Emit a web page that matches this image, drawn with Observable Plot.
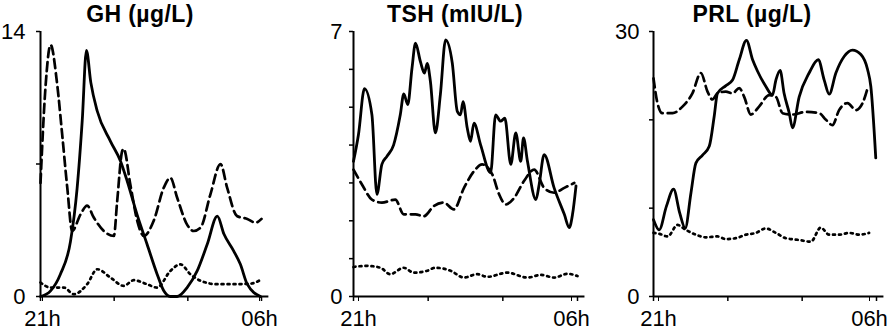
<!DOCTYPE html>
<html><head><meta charset="utf-8">
<script src="https://cdn.jsdelivr.net/npm/d3@7"></script>
<script src="https://cdn.jsdelivr.net/npm/@observablehq/plot@0.6"></script>
<style>
body{margin:0;background:#fff;}
#chart{position:relative;width:892px;height:335px;font-family:"Liberation Sans",Arial,sans-serif;color:#000;}
.panel{position:absolute;top:0;}
.title{position:absolute;top:1px;font-size:23px;font-weight:bold;letter-spacing:0.4px;white-space:nowrap;transform:translateX(-50%);}
</style></head><body><div id="chart"></div>
<script>
// time = hours after 21h (0 = 21h, 9 = 06h)
const xTickHours = [0, 3, 6, 9];
const xStartLabel = "21h";
const xEndLabel = "06h";
const titles = ["GH (\u00b5g/L)", "TSH (mIU/L)", "PRL (\u00b5g/L)"];

// GH (µg/L)
const ghSolid = [[0,0],[0.41,0.3],[0.81,1.18],[1.22,2.9],[1.49,5.7],[1.7,9.3],[1.87,13.0],[2.05,11.3],[2.31,9.8],[2.85,8.2],[3.26,7.15],[3.53,6.1],[3.94,4.3],[4.34,2.76],[4.75,1.18],[5.02,0.3],[5.29,0],[5.57,0],[5.97,0.47],[6.38,1.35],[6.79,2.76],[7.2,4.25],[7.47,3.3],[7.87,2.4],[8.14,1.7],[8.42,0.65],[8.96,0]];
const ghDashed = [[0,6.0],[0.2,11.0],[0.41,13.3],[0.68,11.2],[0.88,8.6],[1.09,5.75],[1.29,3.46],[1.63,4.34],[1.9,4.8],[2.17,4.17],[2.58,3.46],[2.99,3.2],[3.12,5.0],[3.33,7.7],[3.39,7.8],[3.66,5.9],[3.94,4.0],[4.21,3.2],[4.61,4.0],[5.02,5.75],[5.29,6.27],[5.57,5.2],[5.97,3.8],[6.24,3.46],[6.52,3.64],[6.92,5.4],[7.33,7.0],[7.6,5.75],[8.0,4.25],[8.42,4.1],[8.76,3.9],[9,4.1]];
const ghDotted = [[0,0.74],[0.41,0.47],[0.95,0.47],[1.36,0.12],[1.9,0.65],[2.31,1.44],[2.85,1.0],[3.39,0.56],[3.8,0.86],[4.34,0.65],[4.75,0.47],[5.29,1.35],[5.7,1.7],[6.1,1.18],[6.52,0.83],[7.2,0.65],[7.87,0.65],[8.55,0.68],[9,0.9]];

// TSH (mIU/L)
const tshSolid = [[0,3.57],[0.2,4.28],[0.44,5.49],[0.74,4.8],[0.94,2.7],[1.14,3.49],[1.34,3.7],[1.61,4.0],[1.88,4.8],[2.02,5.35],[2.18,5.07],[2.35,6.03],[2.49,6.69],[2.69,6.2],[2.85,5.9],[2.96,6.16],[3.09,5.68],[3.29,4.32],[3.49,5.33],[3.7,6.78],[3.97,6.16],[4.17,4.89],[4.3,4.8],[4.4,5.15],[4.57,4.45],[4.7,4.1],[4.84,4.58],[5.11,4.0],[5.51,3.27],[5.71,4.8],[5.91,4.63],[6.08,4.71],[6.32,3.49],[6.52,4.32],[6.72,3.57],[6.83,4.19],[6.99,3.57],[7.33,2.56],[7.46,2.96],[7.66,3.75],[8.06,2.87],[8.47,2.17],[8.67,1.82],[8.8,2.17],[8.94,2.92]];
const tshDashed = [[0,3.35],[0.34,2.96],[0.74,2.56],[1.14,2.48],[1.68,2.56],[2.02,2.17],[2.49,2.17],[2.82,2.12],[3.23,2.39],[3.63,2.48],[4.03,2.3],[4.44,2.87],[4.84,3.31],[5.17,3.49],[5.58,3.22],[5.85,2.7],[6.12,2.43],[6.45,2.6],[6.85,3.05],[7.26,3.35],[7.66,2.87],[8.06,2.74],[8.47,2.87],[8.87,3.0]];
const tshDotted = [[0,0.78],[0.54,0.81],[1.08,0.76],[1.48,0.59],[2.02,0.76],[2.42,0.63],[2.96,0.68],[3.29,0.76],[3.9,0.68],[4.44,0.5],[4.97,0.59],[5.38,0.52],[6.18,0.63],[6.99,0.5],[7.53,0.57],[8.06,0.5],[8.6,0.6],[9,0.54]];

// PRL (µg/L)
const prlSolid = [[0,8.7],[0.23,7.55],[0.52,10.2],[0.81,12.15],[1.06,9.43],[1.28,7.74],[1.51,11.7],[1.71,15.1],[1.98,16.0],[2.25,17.0],[2.45,20.4],[2.58,23.0],[2.91,23.85],[3.19,24.5],[3.46,26.8],[3.75,29.0],[4.0,26.8],[4.2,25.5],[4.53,23.8],[4.8,22.8],[4.94,24.5],[5.11,25.6],[5.27,23.0],[5.48,20.75],[5.61,19.1],[5.88,22.6],[6.28,25.3],[6.65,26.8],[6.89,24.5],[7.09,22.9],[7.36,25.3],[7.7,27.2],[8.03,27.9],[8.37,27.4],[8.64,25.7],[8.77,23.8],[8.97,15.7]];
const prlDashed = [[0,24.7],[0.16,21.9],[0.36,20.75],[0.77,20.75],[1.17,21.5],[1.57,23.0],[1.91,25.3],[2.18,23.2],[2.38,22.3],[2.58,23.0],[2.92,23.2],[3.19,23.0],[3.46,23.6],[3.66,22.6],[3.93,20.6],[4.26,21.5],[4.67,22.8],[4.94,22.6],[5.21,20.75],[5.61,20.6],[6.15,20.9],[6.69,20.75],[6.96,20.0],[7.22,19.4],[7.49,21.1],[7.83,21.9],[8.17,21.1],[8.44,21.9],[8.64,23.6]];
const prlDotted = [[0,7.2],[0.23,7.1],[0.57,6.8],[0.97,8.1],[1.3,7.55],[1.71,7.0],[2.11,6.7],[2.58,6.8],[2.92,6.5],[3.32,6.6],[3.73,7.0],[4.13,7.2],[4.53,7.7],[4.94,7.2],[5.34,6.6],[5.88,6.4],[6.35,6.2],[6.75,7.8],[7.09,7.0],[7.49,7.0],[7.9,7.2],[8.3,7.0],[8.7,7.2]];

const yMax = [14, 7, 30];
const yTicks = [[0, 7, 14], [0,1,2,3,4,5,6,7], [0, 10, 20, 30]];

const panels = [
  {left: 0,   width: 300, mL: 40, mR: 39, pad: 11, dxS: 2, dxE: -2, titleX: 140, series: [ghSolid, ghDashed, ghDotted]},
  {left: 300, width: 300, mL: 53, mR: 23, pad: 7,  dxS: 5, dxE: -6, titleX: 455, series: [tshSolid, tshDashed, tshDotted]},
  {left: 600, width: 292, mL: 53, mR: 16, pad: 10, dxS: 5, dxE: -7, titleX: 752, series: [prlSolid, prlDashed, prlDotted]}
];
const styles = [
  {strokeWidth: 2.8},
  {strokeWidth: 2.7, strokeDasharray: "9,5"},
  {strokeWidth: 2.7, strokeDasharray: "2,4"}
];

const chart = document.getElementById("chart");
panels.forEach((p, i) => {
  const ymax = yMax[i];
  const marks = [
    Plot.ruleX([0], {y1: 0, y2: ymax, stroke: "black", strokeWidth: 2}),
    Plot.ruleY([0], {x1: 0, x2: 9.3, stroke: "black", strokeWidth: 2}),
    Plot.axisY({ticks: yTicks[i], tickFormat: d => (d === 0 || d === ymax) ? String(d) : "", tickSize: 4, tickPadding: p.pad, strokeWidth: 1.5, label: null}),
    Plot.axisX({ticks: xTickHours, tickFormat: () => "", tickSize: 5, strokeWidth: 1.5, label: null}),
    Plot.axisX({ticks: [0], tickFormat: () => xStartLabel, tickSize: 5, tickPadding: 9, dx: p.dxS, label: null}),
    Plot.axisX({ticks: [9], tickFormat: () => xEndLabel, tickSize: 5, tickPadding: 9, dx: p.dxE, label: null}),
    ...p.series.map((s, j) => Plot.line(s, {x: d => d[0], y: d => d[1], stroke: "black", curve: "monotone-x", ...styles[j]}))
  ];
  const svg = Plot.plot({
    width: p.width, height: 335,
    marginLeft: p.mL, marginRight: p.mR, marginTop: 31, marginBottom: 39,
    x: {domain: [0, 9]},
    y: {domain: [0, ymax]},
    style: {fontSize: "22px", fontFamily: "'Liberation Sans', Arial, sans-serif", background: "white", overflow: "visible"},
    marks
  });
  const wrap = document.createElement("div");
  wrap.className = "panel";
  wrap.style.left = p.left + "px";
  wrap.appendChild(svg);
  chart.appendChild(wrap);
  const t = document.createElement("div");
  t.className = "title";
  t.style.left = p.titleX + "px";
  t.textContent = titles[i];
  chart.appendChild(t);
});
</script>
</body></html>
